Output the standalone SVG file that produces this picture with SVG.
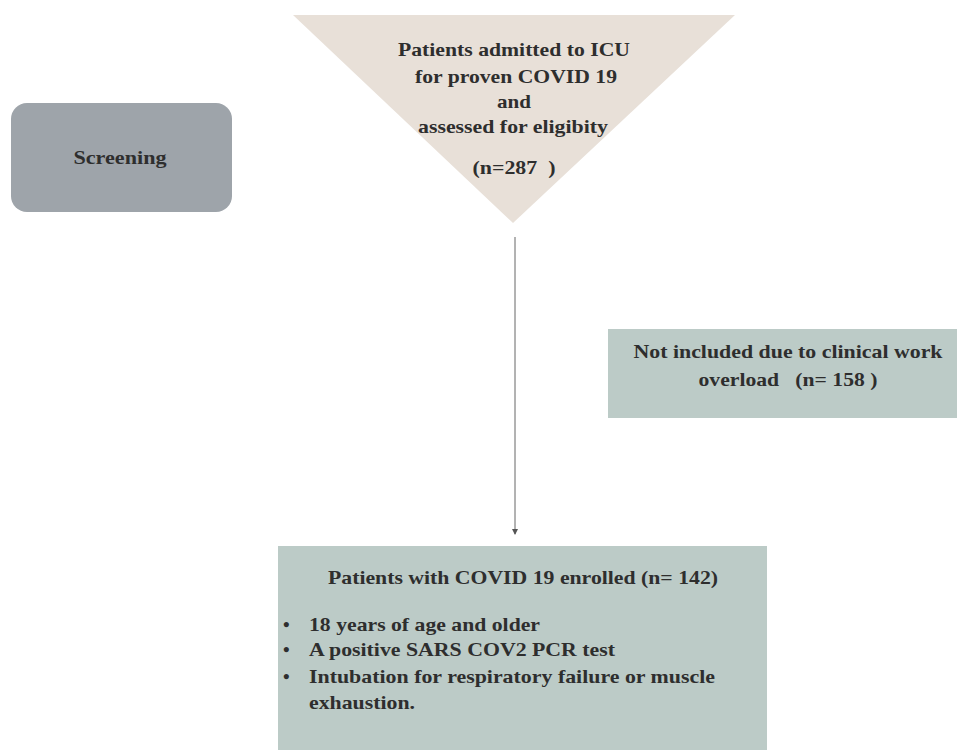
<svg xmlns="http://www.w3.org/2000/svg" width="957" height="750" viewBox="0 0 957 750">
<style>
text{font-family:"Liberation Serif","Times New Roman",serif;font-weight:bold;font-size:19px;fill:#2e2e2e}
.c{text-anchor:middle}
.pre{white-space:pre}
.box{fill:#bccbc7}
</style>
<defs>
<marker id="ah" markerWidth="6" markerHeight="6" refX="5" refY="3" orient="auto" markerUnits="userSpaceOnUse">
<path d="M0,0 L6,3 L0,6 Z" fill="#555"/>
</marker>
</defs>
<rect width="957" height="750" fill="#fff"/>
<g id="screening">
<rect x="11" y="103" width="221" height="109" rx="16" fill="#9ea4aa"/>
<text class="c" x="120" y="164" textLength="93" lengthAdjust="spacingAndGlyphs">Screening</text>
</g>
<g id="assessed">
<polygon points="293,15 735,15 513,223" fill="#e8e0d8"/>
<text class="c" x="514" y="56" textLength="232" lengthAdjust="spacingAndGlyphs">Patients admitted to ICU</text>
<text class="c" x="516" y="83" textLength="202" lengthAdjust="spacingAndGlyphs">for proven COVID 19</text>
<text class="c" x="514" y="108" textLength="34" lengthAdjust="spacingAndGlyphs">and</text>
<text class="c" x="513" y="133" textLength="190" lengthAdjust="spacingAndGlyphs">assessed for eligibity</text>
<text class="c pre" x="514" y="174" textLength="83" lengthAdjust="spacingAndGlyphs">(n=287  )</text>
</g>
<g id="excluded">
<rect class="box" x="608" y="329" width="349" height="89"/>
<text class="c" x="788" y="358" textLength="309" lengthAdjust="spacingAndGlyphs">Not included due to clinical work</text>
<text class="c pre" x="788" y="386" textLength="179" lengthAdjust="spacingAndGlyphs">overload   (n= 158 )</text>
</g>
<g id="enrolled">
<rect class="box" x="278" y="546" width="489" height="204"/>
<text class="c" x="523" y="584" textLength="390" lengthAdjust="spacingAndGlyphs">Patients with COVID 19 enrolled (n= 142)</text>
<text x="283" y="631">•</text><text x="309" y="631" textLength="231" lengthAdjust="spacingAndGlyphs">18 years of age and older</text>
<text x="283" y="656">•</text><text x="309" y="656" textLength="306" lengthAdjust="spacingAndGlyphs">A positive SARS COV2 PCR test</text>
<text x="283" y="683">•</text><text x="309" y="683" textLength="406" lengthAdjust="spacingAndGlyphs">Intubation for respiratory failure or muscle</text>
<text x="309" y="709" textLength="106" lengthAdjust="spacingAndGlyphs">exhaustion.</text>
</g>
<g id="connectors">
<line x1="515" y1="237" x2="515" y2="534" stroke="#666" stroke-width="1" marker-end="url(#ah)"/>
</g>
</svg>
